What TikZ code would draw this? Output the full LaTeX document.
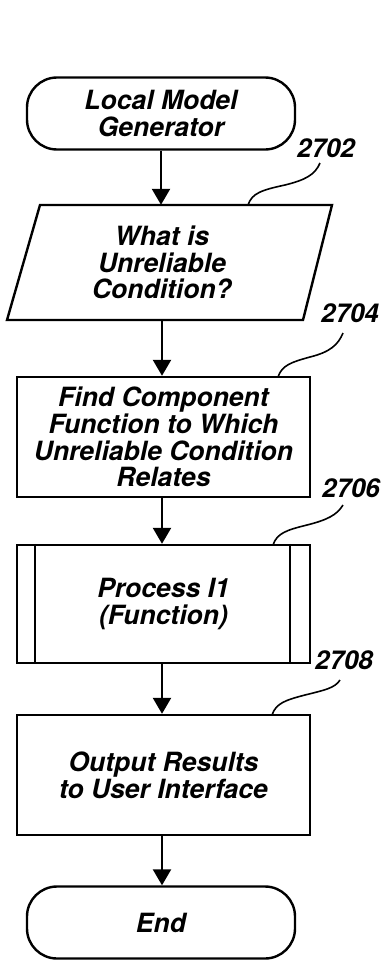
\documentclass[tikz,border=0pt]{standalone}
\usepackage{fontspec}
\setmainfont{TeX Gyre Heros}
\usetikzlibrary{arrows.meta}
\begin{document}
\begin{tikzpicture}[x=1pt,y=-1pt,
  txt/.style={font=\fontsize{26.5}{26.7}\selectfont\bfseries\itshape, align=center, inner sep=0pt},
  term/.style={txt, draw, line width=2.4pt, rounded corners=30pt, minimum width=268pt, minimum height=72pt},
  procbox/.style={txt, draw, line width=2.4pt, minimum width=293pt, minimum height=120pt},
  arr/.style={line width=2.4pt, -{Triangle[width=18pt,length=16pt]}},
  refnum/.style={font=\fontsize{26}{26}\selectfont\bfseries\itshape, inner sep=0pt},
  leader/.style={line width=1.6pt}]
\useasboundingbox (0,0) rectangle (384,961);

% nodes
\node[term] (start) at (161,113.5) {Local Model\\Generator};
\node[txt, minimum width=260pt, minimum height=115pt] (q) at (162,262.5) {What is\\Unreliable\\Condition?};
\draw[line width=2.4pt, line join=miter] (40,205) -- (332,205) -- (303,320) -- (7,320) -- cycle;
\node[procbox] (find) at (163.5,437) {Find Component\\Function to Which\\Unreliable Condition\\Relates};
\node[procbox, minimum height=118pt] (proc) at (163.5,604) {Process I1\\(Function)};
\draw[line width=2.4pt] ([xshift=19pt]proc.north west) -- ([xshift=19pt]proc.south west);
\draw[line width=2.4pt] ([xshift=-21pt]proc.north east) -- ([xshift=-21pt]proc.south east);
\node[procbox] (out) at (163.5,775) {Output Results\\to User Interface};
\node[term] (end) at (161,922.5) {End};

% connectors
\draw[arr] (start.south) -- (start.south |- q.north);
\draw[arr] (q.south) -- (q.south |- find.north);
\draw[arr] (q.south |- find.south) -- (q.south |- proc.north);
\draw[arr] (q.south |- proc.south) -- (q.south |- out.north);
\draw[arr] (q.south |- out.south) -- (q.south |- end.north);

% reference numerals
\node[refnum] (n2702) at (326,148) {2702};
\node[refnum] (n2704) at (350,313) {2704};
\node[refnum] (n2706) at (351,488) {2706};
\node[refnum] (n2708) at (344,660) {2708};
\coordinate (l2702) at (320,163);
\coordinate (l2704) at (343,333);
\coordinate (l2706) at (343,505);
\coordinate (l2708) at (340,680);
\draw[leader] (248,205) .. controls (252,193) and (262,190) .. (285,185) .. controls (305,180) and (315,175) .. (l2702);
\draw[leader] (278,377) .. controls (282,365) and (292,362) .. (310,357) .. controls (330,352) and (338,345) .. (l2704);
\draw[leader] (273,545) .. controls (277,533) and (287,530) .. (307,525) .. controls (327,520) and (337,515) .. (l2706);
\draw[leader] (272,715) .. controls (276,703) and (286,700) .. (305,695) .. controls (325,690) and (335,688) .. (l2708);
\end{tikzpicture}
\end{document}
